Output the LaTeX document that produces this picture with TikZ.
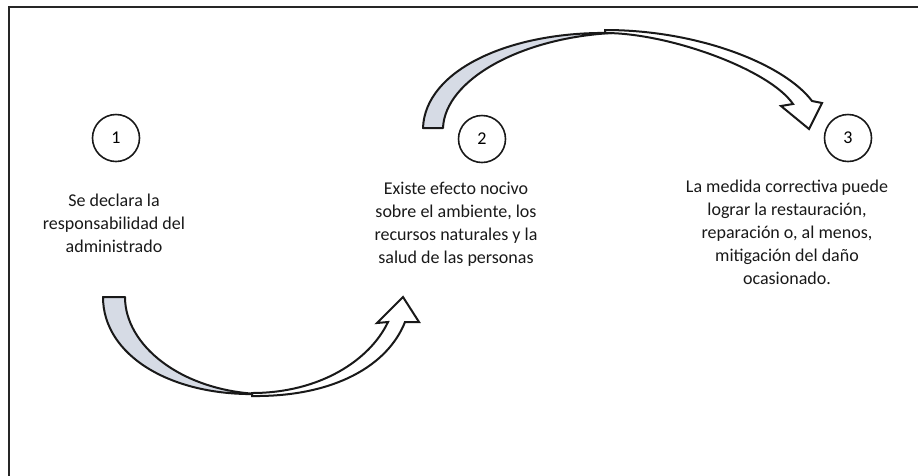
\documentclass[tikz,border=0pt]{standalone}
\usepackage{fontspec}
\setmainfont{Carlito}
\definecolor{backfill}{HTML}{D6DBE5}
\begin{document}
\begin{tikzpicture}
[x=1pt, y=-1pt,
 num/.style={circle, draw=black!90, line width=1.6pt, minimum size=47pt, inner sep=0pt, font=\fontsize{18}{18}\selectfont},
 txt/.style={align=center, text=black!90, font=\fontsize{18}{23}\selectfont},
 back/.style={draw=black!90, line width=2pt, fill=backfill, line join=round},
 front/.style={draw=black!90, line width=2pt, fill=white}]
\useasboundingbox (0,0) rectangle (918,475);
\draw [line width=2.2pt, black!85] (9,477) -- (9,7) -- (920,7);
% steps
\node [num] (n1) at (116,138) {1};
\node [num] (n2) at (482,139) {2};
\node [num] (n3) at (848,138) {3};
\node [txt] (t1) at (114,223) {Se declara la\\responsabilidad del\\administrado};
\node [txt] (t2) at (456,224) {Existe efecto nocivo\\sobre el ambiente, los\\recursos naturales y la\\salud de las personas};
\node [txt] (t3) at (787,232) {La medida correctiva puede\\lograr la restauración,\\reparación o, al menos,\\mitigación del daño\\ocasionado.};
% lower arrow
\draw [back] (103,297) -- (125,297) .. controls (125,345) and (180,390) .. (258,394) .. controls (170,396) and (103,355) .. (103,297) -- cycle;
\draw [front] (252,393) .. controls (320,393) and (370,360) .. (388,322) -- (377,323) -- (403,297) -- (419,322) -- (405,322) .. controls (388,365) and (335,397) .. (252,396) -- cycle;
% upper arrow
\draw [back] (423,128) -- (443,128) .. controls (445,80) and (520,38) .. (612,33) .. controls (510,31) and (425,70) .. (423,128) -- cycle;
\draw [front] (605,33) .. controls (670,33) and (770,70) .. (793,104) -- (781,106) -- (809,129) -- (822,103) -- (812,101) .. controls (785,65) and (700,30) .. (605,30) -- cycle;
\end{tikzpicture}
\end{document}
